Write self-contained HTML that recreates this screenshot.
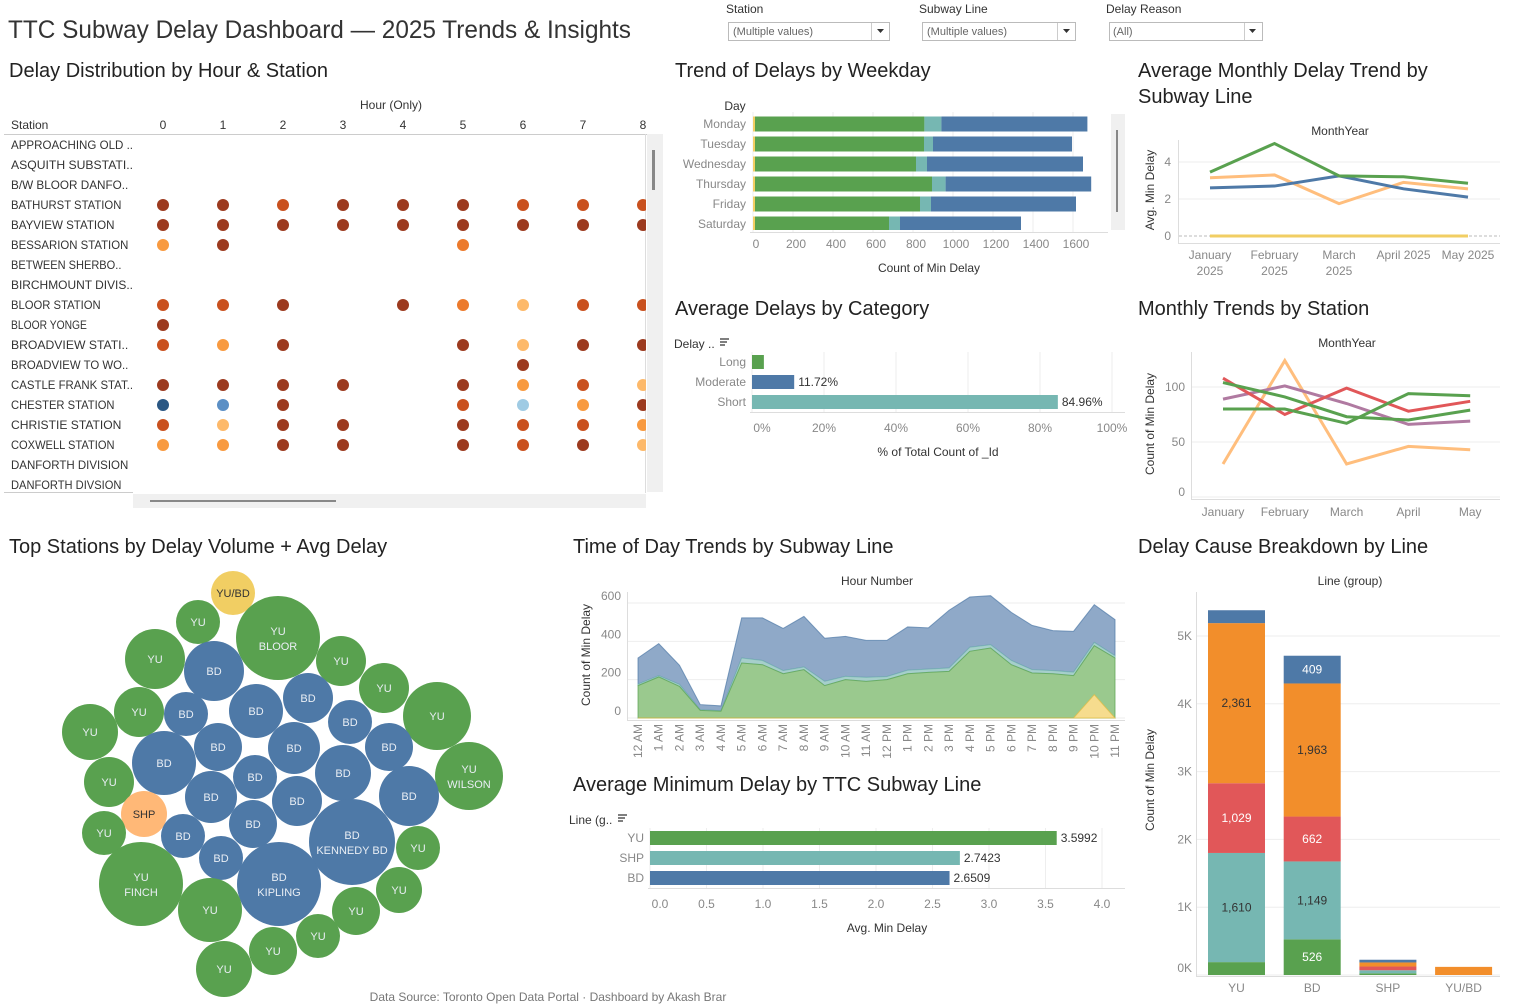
<!DOCTYPE html>
<html><head><meta charset="utf-8"><style>
html,body{margin:0;padding:0;background:#fff;}
svg{display:block;font-family:"Liberation Sans",sans-serif;}
.t{font-size:20px;fill:#222;}
.tk{font-size:12px;fill:#888;}
.hd{font-size:12px;fill:#333;}
</style></head><body>
<svg id="s" width="1513" height="1005" viewBox="0 0 1513 1005" xmlns="http://www.w3.org/2000/svg">
<defs><clipPath id="hmclip"><rect x="0" y="134" width="646" height="360"/></clipPath>
<clipPath id="wkclip"><rect x="740" y="110" width="370" height="120"/></clipPath></defs>
<text x="8" y="38" textLength="623" lengthAdjust="spacingAndGlyphs" style="font-size:25px;fill:#333">TTC Subway Delay Dashboard — 2025 Trends &amp; Insights</text>
<g><text x="726" y="13" class="hd">Station</text><rect x="728.5" y="22.5" width="161" height="18" fill="#fff" stroke="#bbb"/><line x1="871.5" y1="23" x2="871.5" y2="40" stroke="#ccc"/><text x="733" y="35" style="font-size:11px;fill:#666">(Multiple values)</text><path d="M877 29h7l-3.5 4z" fill="#333"/></g>
<g><text x="919" y="13" class="hd">Subway Line</text><rect x="922.5" y="22.5" width="153" height="18" fill="#fff" stroke="#bbb"/><line x1="1057.5" y1="23" x2="1057.5" y2="40" stroke="#ccc"/><text x="927" y="35" style="font-size:11px;fill:#666">(Multiple values)</text><path d="M1063 29h7l-3.5 4z" fill="#333"/></g>
<g><text x="1106" y="13" class="hd">Delay Reason</text><rect x="1109.5" y="22.5" width="153" height="18" fill="#fff" stroke="#bbb"/><line x1="1244.5" y1="23" x2="1244.5" y2="40" stroke="#ccc"/><text x="1113" y="35" style="font-size:11px;fill:#666">(All)</text><path d="M1249 29h7l-3.5 4z" fill="#333"/></g>
<text x="9" y="77" class="t">Delay Distribution by Hour &amp; Station</text>
<text x="675" y="77" class="t">Trend of Delays by Weekday</text>
<text x="1138" y="77" class="t">Average Monthly Delay Trend by</text>
<text x="1138" y="103" class="t">Subway Line</text>
<text x="675" y="315" class="t">Average Delays by Category</text>
<text x="1138" y="315" class="t">Monthly Trends by Station</text>
<text x="9" y="553" class="t">Top Stations by Delay Volume + Avg Delay</text>
<text x="573" y="553" class="t">Time of Day Trends by Subway Line</text>
<text x="1138" y="553" class="t">Delay Cause Breakdown by Line</text>
<text x="573" y="791" class="t">Average Minimum Delay by TTC Subway Line</text>
<text x="548" y="1001" text-anchor="middle" style="font-size:12px;fill:#777">Data Source: Toronto Open Data Portal · Dashboard by Akash Brar</text>
</svg>
<script>
const NS='http://www.w3.org/2000/svg';const svg=document.getElementById('s');
function E(tag,a,p){const e=document.createElementNS(NS,tag);for(const k in a)e.setAttribute(k,a[k]);(p||svg).appendChild(e);return e;}
function T(x,y,s,a,p){const e=E('text',Object.assign({x:x,y:y},a||{}),p);e.textContent=s;return e;}

/* ---------- heatmap ---------- */
const hmStations=["APPROACHING OLD ..","ASQUITH SUBSTATI..","B/W BLOOR DANFO..","BATHURST STATION","BAYVIEW STATION","BESSARION STATION","BETWEEN SHERBO..","BIRCHMOUNT DIVIS..","BLOOR STATION","BLOOR YONGE","BROADVIEW STATI..","BROADVIEW TO WO..","CASTLE FRANK STAT..","CHESTER STATION","CHRISTIE STATION","COXWELL STATION","DANFORTH DIVISION","DANFORTH DIVSION"];
const hmHours=[0,1,2,3,4,5,6,7,8];
const hmCells=[".........",".........",".........","ddrdddrrr","ddddddddd","pd...o...",".........",".........","rrd.dolrr","d........","rpd..dldd","......d..","dddd.dprl","Bmd..rcpd","rldd.drrp","ppdd.drdl",".........","........."];
const hmColor={d:'#9c3a1f',r:'#c9511f',o:'#ec7a2c',p:'#f89a40',l:'#fdb96a',B:'#2a5783',m:'#5b8fc5',c:'#9fcbe4'};
(function(){
 const g=E('g',{});
 const hx=h=>163+h*60, ry=i=>145+i*20;
 let e=T(391,109,'Hour (Only)',{class:'hd','text-anchor':'middle'},g);
 e=T(11,129,'Station',{class:'hd'},g);
 hmHours.forEach(h=>{const t=T(hx(h),129,String(h),{class:'hd','text-anchor':'middle'},g);});
 E('line',{x1:4,y1:134.5,x2:660,y2:134.5,stroke:'#ccc'},g);
 E('line',{x1:645.5,y1:134,x2:645.5,y2:493,stroke:'#ddd'},g);
 E('line',{x1:4,y1:492.5,x2:133,y2:492.5,stroke:'#ccc'},g);
 e=E('rect',{x:647,y:134,width:16,height:358,fill:'#f0f0f0'},g);
 E('rect',{x:652,y:150,width:3,height:40,fill:'#888'},g);
 e=E('rect',{x:133,y:494,width:513,height:14,fill:'#f0f0f0'},g);
 E('rect',{x:150,y:500,width:186,height:2,fill:'#888'},g);
 const dg=E('g',{'clip-path':'url(#hmclip)'},g);
 hmStations.forEach((s,i)=>{
  const t=T(11,ry(i)+4,s,{style:'font-size:12px;fill:#333',textLength:Math.min(122,s.length*6.9),lengthAdjust:'spacingAndGlyphs'},g);
  hmCells[i].split('').forEach((c,h)=>{if(c==='.')return;
   const d=E('circle',{cx:hx(h),cy:ry(i),r:6,fill:hmColor[c]},dg);});
 });
})();

/* ---------- weekday stacked bars ---------- */
const wkDays=["Monday","Tuesday","Wednesday","Thursday","Friday","Saturday"];
const wkYellow=[10,10,10,10,10,10];
const wkGreen=[847,845,805,885,825,670];
const wkTeal=[85,45,55,68,55,55];
const wkBlue=[730,695,780,728,725,605];
const wkTicks=[0,200,400,600,800,1000,1200,1400,1600];
(function(){
 const g=E('g',{});
 const X=v=>753+v*0.2, Y=i=>124+i*20;
 wkTicks.forEach(v=>{E('line',{x1:X(v),y1:112,x2:X(v),y2:232,stroke:'#eee'},g);
  const t=T(X(v)+3,248,String(v),{class:'tk','text-anchor':'middle'},g);});
 E('line',{x1:750,y1:232.5,x2:1108,y2:232.5,stroke:'#ddd'},g);
 let e=T(735,110,'Day',{class:'hd','text-anchor':'middle'},g);
 e=T(929,272,'Count of Min Delay',{class:'hd','text-anchor':'middle'},g);
 e=E('rect',{x:1111,y:114,width:14,height:116,fill:'#f0f0f0'},g);
 E('rect',{x:1116,y:130,width:2,height:82,fill:'#888'},g);
 const bg=E('g',{'clip-path':'url(#wkclip)'},g);
 wkDays.forEach((d,i)=>{
  const t=T(746,Y(i)+4,d,{class:'tk','text-anchor':'end'},g);
  let c=0;[[wkYellow,'#f1ce63'],[wkGreen,'#59a14f'],[wkTeal,'#76b7b2'],[wkBlue,'#4e79a7']].forEach(([arr,col])=>{
   const r=E('rect',{x:X(c),y:Y(i)-7.5,width:arr[i]*0.2,height:15,fill:col},bg);c+=arr[i];});
 });
})();

/* ---------- category bars ---------- */
const catNames=["Long","Moderate","Short"];
const catValues=[3.3,11.72,84.96];
const catLabels=["","11.72%","84.96%"];
const catColors=['#59a14f','#4e79a7','#76b7b2'];
const catTicks=[0,20,40,60,80,100];
(function(){
 const g=E('g',{});
 const X=v=>752+v*3.6, Y=i=>362+i*20;
 catTicks.forEach(v=>{E('line',{x1:X(v),y1:352,x2:X(v),y2:412,stroke:'#eee'},g);
  const t=T(X(v)+(v===0?10:0),432,v+'%',{class:'tk','text-anchor':'middle'},g);});
 E('line',{x1:750,y1:412.5,x2:1125,y2:412.5,stroke:'#ddd'},g);
 let e=T(674,348,'Delay ..',{class:'hd'},g);
 e=E('path',{d:'M720 339h9M720 342h7M720 345h5',stroke:'#333','stroke-width':1.2},g);
 e=T(938,456,'% of Total Count of _Id',{class:'hd','text-anchor':'middle'},g);
 catNames.forEach((n,i)=>{
  const t=T(746,Y(i)+4,n,{class:'tk','text-anchor':'end'},g);
  const r=E('rect',{x:752,y:Y(i)-7,width:X(catValues[i])-752,height:14,fill:catColors[i]},g);
  if(catLabels[i]){const l=T(X(catValues[i])+4,Y(i)+4,catLabels[i],{style:'font-size:12px;fill:#333'},g);}
 });
})();

/* ---------- avg monthly delay by line ---------- */
const amMonths=[["January","2025"],["February","2025"],["March","2025"],["April 2025",""],["May 2025",""]];
const amGreen=[3.45,5.0,3.25,3.2,2.85];
const amOrange=[3.15,3.3,1.75,2.9,2.55];
const amBlue=[2.6,2.7,3.25,2.55,2.1];
const amYellow=[0,0,0,0,0];
const amTicks=[0,2,4];
(function(){
 const g=E('g',{});
 const X=i=>1210+i*64.5, Y=v=>236-v*18.5;
 amTicks.forEach(v=>{E('line',{x1:1179,y1:Y(v),x2:1500,y2:Y(v),stroke:v===0?'#bbb':'#eee','stroke-dasharray':v===0?'3,2':''},g);
  const t=T(1171,Y(v)+4,String(v),{class:'tk','text-anchor':'end'},g);});
 E('line',{x1:1178.5,y1:140,x2:1178.5,y2:244,stroke:'#ddd'},g);
 E('line',{x1:1178,y1:243.5,x2:1500,y2:243.5,stroke:'#ddd'},g);
 let e=T(1340,135,'MonthYear',{class:'hd','text-anchor':'middle'},g);
 e=T(0,0,'Avg. Min Delay',{class:'hd','text-anchor':'middle',transform:'translate(1154,190) rotate(-90)'},g);
 amMonths.forEach((m,i)=>{const a=T(X(i),259,m[0],{class:'tk','text-anchor':'middle'},g);
  if(m[1]){const b=T(X(i),275,m[1],{class:'tk','text-anchor':'middle'},g);}});
 [[amYellow,'#f1ce63','line-yu-bd'],[amOrange,'#ffbe7d','line-shp'],[amBlue,'#4e79a7','line-bd'],[amGreen,'#59a14f','line-yu']].forEach(([arr,col,nm])=>{
  const p=E('polyline',{points:arr.map((v,i)=>X(i)+','+Y(v)).join(' '),fill:'none',stroke:col,'stroke-width':3},g);});
})();

/* ---------- monthly trends by station ---------- */
const stMonths=["January","February","March","April","May"];
const stOrange=[30,124,30,46,43];
const stRed=[108,75,99,78,87];
const stPurple=[89,101,85,66,69];
const stGreenA=[104,91,73,70,79];
const stGreenB=[80,80,67,94,92];
const stTicks=[0,50,100];
(function(){
 const g=E('g',{});
 const X=i=>1223+i*61.8, Y=v=>497-v*1.1;
 stTicks.forEach(v=>{E('line',{x1:1192,y1:Y(v),x2:1500,y2:Y(v),stroke:'#eee'},g);
  const t=T(1185,Y(v)+(v===0?-1:4),String(v),{class:'tk','text-anchor':'end'},g);});
 E('line',{x1:1191.5,y1:352,x2:1191.5,y2:500,stroke:'#ddd'},g);
 E('line',{x1:1191,y1:499.5,x2:1500,y2:499.5,stroke:'#ddd'},g);
 let e=T(1347,347,'MonthYear',{class:'hd','text-anchor':'middle'},g);
 e=T(0,0,'Count of Min Delay',{class:'hd','text-anchor':'middle',transform:'translate(1154,424) rotate(-90)'},g);
 stMonths.forEach((m,i)=>{const a=T(X(i),516,m,{class:'tk','text-anchor':'middle'},g);});
 [[stOrange,'#ffbe7d'],[stPurple,'#b07aa1'],[stRed,'#e15759'],[stGreenA,'#59a14f'],[stGreenB,'#59a14f']].forEach(([arr,col])=>{
  const p=E('polyline',{points:arr.map((v,i)=>X(i)+','+Y(v)).join(' '),fill:'none',stroke:col,'stroke-width':3},g);});
})();

/* ---------- bubble chart ---------- */
const bbLine=["YU/BD","YU","YU","YU","BD","YU","YU","BD","YU","YU","BD","BD","BD","YU","BD","BD","BD","BD","YU","BD","BD","YU","BD","BD","BD","SHP","YU","BD","BD","BD","YU","BD","YU","BD","YU","YU","YU","YU","YU","YU"];
const bbStation=["","","BLOOR","","","","","","","","","","","","","","","","","","","WILSON","","","","","","","","KENNEDY BD","","","FINCH","KIPLING","","","","","",""];
const bbRadius=[22,22,42,30,30,25,25,25,34,25,22,27,22,28,24,26,24,32,25,22,28,34,26,25,30,23,22,22,24,43,22,22,42,42,32,23,24,22,24,28];
const bbX=[233,198,278,155,214,341,384,308,437,139,186,256,350,90,218,294,389,164,109,255,343,469,211,297,409,144,104,183,253,352,418,221,141,279,210,399,356,318,273,224];
const bbY=[593,622,638,659,671,661,688,698,716,712,714,711,722,732,747,748,747,763,782,777,773,776,797,801,796,814,833,836,824,842,848,858,884,884,910,890,911,936,951,969];
const bbColor={YU:'#59a14f',BD:'#4e79a7',SHP:'#ffb877','YU/BD':'#f1ce63'};
(function(){
 const g=E('g',{});
 bbLine.forEach((l,i)=>{
  const c=E('circle',{cx:bbX[i],cy:bbY[i],r:bbRadius[i],fill:bbColor[l]},g);
  const fc=(l==='SHP'||l==='YU/BD')?'#333':'#e9eef4';
  if(bbStation[i]){const a=T(bbX[i],bbY[i]-3,l,{'text-anchor':'middle',style:'font-size:11px;fill:'+fc},g);
   const b=T(bbX[i],bbY[i]+12,bbStation[i],{'text-anchor':'middle',style:'font-size:11px;fill:'+fc},g);}
  else{const a=T(bbX[i],bbY[i]+4,l,{'text-anchor':'middle',style:'font-size:11px;fill:'+fc},g);}
 });
})();

/* ---------- time of day area ---------- */
const todHours=["12 AM","1 AM","2 AM","3 AM","4 AM","5 AM","6 AM","7 AM","8 AM","9 AM","10 AM","11 AM","12 PM","1 PM","2 PM","3 PM","4 PM","5 PM","6 PM","7 PM","8 PM","9 PM","10 PM","11 PM"];
const todGreen=[169,214,165,40,35,287,278,231,252,169,200,191,200,231,238,243,348,365,278,235,231,221,377,313];
const todTeal=[8,7,10,3,3,26,22,16,14,22,17,21,16,18,17,18,21,17,22,17,16,18,17,12];
const todBlue=[136,167,100,27,25,209,222,220,264,225,209,193,189,226,215,301,262,256,251,231,209,213,197,188];
const todYellow=[0,0,0,0,0,0,0,0,0,0,0,0,0,0,0,0,0,0,0,0,0,0,122,0];
const todTicks=[0,200,400,600];
(function(){
 const g=E('g',{});
 const X=i=>638+i*20.74, Y=v=>718-v*0.1917;
 todTicks.forEach(v=>{E('line',{x1:628,y1:Y(v),x2:1125,y2:Y(v),stroke:'#eee'},g);
  const t=T(621,Y(v)-3,String(v),{class:'tk','text-anchor':'end'},g);});
 E('line',{x1:627.5,y1:592,x2:627.5,y2:721,stroke:'#ddd'},g);
 E('line',{x1:627,y1:720.5,x2:1125,y2:720.5,stroke:'#ddd'},g);
 let e=T(877,585,'Hour Number',{class:'hd','text-anchor':'middle'},g);
 e=T(0,0,'Count of Min Delay',{class:'hd','text-anchor':'middle',transform:'translate(590,655) rotate(-90)'},g);
 const n=todHours.length;
 const cumG=todGreen, cumT=todGreen.map((v,i)=>v+todTeal[i]), cumB=cumT.map((v,i)=>v+todBlue[i]);
 function area(top,bot){let d='M'+X(0)+','+Y(top[0]);for(let i=1;i<n;i++)d+=' L'+X(i)+','+Y(top[i]);for(let i=n-1;i>=0;i--)d+=' L'+X(i)+','+Y(bot?bot[i]:0);return d+'Z';}
 [[cumB,cumT,'#8fa9c8','#4e79a7','area-bd'],[cumT,cumG,'#a6cfcb','#76b7b2','area-shp'],[cumG,null,'#9ac98e','#59a14f','area-yu'],[todYellow,null,'#f6dc8e','#e0bb40','area-yu-bd']].forEach(([top,bot,f,s,nm])=>{
  const p=E('path',{d:area(top,bot),fill:f,stroke:s,'stroke-width':1,'stroke-opacity':0.7},g);});
 todHours.forEach((h,i)=>{const t=T(0,0,h,{class:'tk','text-anchor':'end',transform:'translate('+(X(i)+4)+',724) rotate(-90)'},g);});
})();

/* ---------- avg min delay by line ---------- */
const alLines=["YU","SHP","BD"];
const alValues=[3.5992,2.7423,2.6509];
const alColors=['#59a14f','#76b7b2','#4e79a7'];
const alTicks=[0,0.5,1,1.5,2,2.5,3,3.5,4];
(function(){
 const g=E('g',{});
 const X=v=>650+v*113, Y=i=>838+i*20;
 alTicks.forEach(v=>{E('line',{x1:X(v),y1:828,x2:X(v),y2:888,stroke:'#eee'},g);
  const t=T(X(v)+(v===0?10:0),908,v.toFixed(1),{class:'tk','text-anchor':'middle'},g);});
 E('line',{x1:648,y1:888.5,x2:1125,y2:888.5,stroke:'#ddd'},g);
 let e=T(569,824,'Line (g..',{class:'hd'},g);
 e=E('path',{d:'M618 815h9M618 818h7M618 821h5',stroke:'#333','stroke-width':1.2},g);
 e=T(887,932,'Avg. Min Delay',{class:'hd','text-anchor':'middle'},g);
 alLines.forEach((l,i)=>{
  const t=T(644,Y(i)+4,l,{class:'tk','text-anchor':'end'},g);
  const r=E('rect',{x:650,y:Y(i)-7,width:X(alValues[i])-650,height:14,fill:alColors[i]},g);
  const v=T(X(alValues[i])+4,Y(i)+4,alValues[i].toFixed(4),{style:'font-size:12px;fill:#333'},g);
 });
})();

/* ---------- delay cause stacked bars ---------- */
const dcLines=["YU","BD","SHP","YU/BD"];
const dcGreen=[190,526,25,0];
const dcTeal=[1610,1149,45,0];
const dcRed=[1029,662,55,0];
const dcOrange=[2361,1963,60,120];
const dcBlue=[190,409,40,0];
const dcTicks=[0,1000,2000,3000,4000,5000];
const dcTickLabels=["0K","1K","2K","3K","4K","5K"];
(function(){
 const g=E('g',{});
 const X=i=>1208+i*75.7, Y=v=>975-v*0.0678;
 dcTicks.forEach((v,k)=>{E('line',{x1:1197,y1:Y(v),x2:1500,y2:Y(v),stroke:'#eee'},g);
  const t=T(1192,Y(v)+(v===0?-3:4),dcTickLabels[k],{class:'tk','text-anchor':'end'},g);});
 E('line',{x1:1196.5,y1:592,x2:1196.5,y2:977,stroke:'#ddd'},g);
 E('line',{x1:1196,y1:976.5,x2:1500,y2:976.5,stroke:'#ddd'},g);
 let e=T(1350,585,'Line (group)',{class:'hd','text-anchor':'middle'},g);
 e=T(0,0,'Count of Min Delay',{class:'hd','text-anchor':'middle',transform:'translate(1154,780) rotate(-90)'},g);
 const segs=[[dcGreen,'#59a14f','#fff'],[dcTeal,'#76b7b2','#333'],[dcRed,'#e15759','#fff'],[dcOrange,'#f28e2b','#333'],[dcBlue,'#4e79a7','#fff']];
 dcLines.forEach((l,i)=>{
  let c=0;
  segs.forEach(([arr,col,tc])=>{const v=arr[i];if(!v)return;
   const r=E('rect',{x:X(i),y:Y(c+v),width:57,height:v*0.0678,fill:col},g);
   if(v>300){const t=T(X(i)+28.5,Y(c+v/2)+4,v.toLocaleString('en-US'),{'text-anchor':'middle',style:'font-size:12px;fill:'+tc},g);}
   c+=v;});
  const t=T(X(i)+28.5,992,l,{class:'tk','text-anchor':'middle'},g);
 });
})();
</script>
</body></html>
